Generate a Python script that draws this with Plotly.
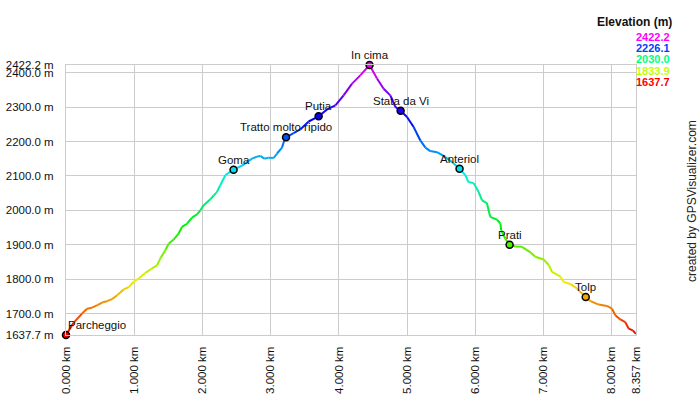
import colorsys
import plotly.graph_objects as go

# ---- data ----
dist_km = [0.000, 0.110, 0.235, 0.310, 0.380, 0.455, 0.530, 0.600, 0.675, 0.750,
           0.845, 0.920, 0.990, 1.065, 1.163, 1.260, 1.335, 1.383, 1.456, 1.505,
           1.578, 1.650, 1.700, 1.774, 1.848, 1.920, 1.970, 2.020, 2.116, 2.165,
           2.210, 2.260, 2.336, 2.457, 2.580, 2.727, 2.800, 2.850, 2.907, 2.970,
           3.044, 3.094, 3.167, 3.200, 3.226, 3.337, 3.435, 3.557, 3.704, 3.827,
           3.950, 4.070, 4.194, 4.315, 4.450, 4.560, 4.657, 4.755, 4.830, 4.906,
           5.000, 5.097, 5.195, 5.270, 5.340, 5.440, 5.560, 5.660, 5.770, 5.855,
           5.900, 5.977, 6.050, 6.100, 6.170, 6.220, 6.320, 6.370, 6.380, 6.440,
           6.504, 6.588, 6.686, 6.810, 6.880, 7.003, 7.077, 7.126, 7.250, 7.296,
           7.394, 7.490, 7.540, 7.620, 7.690, 7.810, 7.930, 8.006, 8.054, 8.127,
           8.200, 8.250, 8.310, 8.357]
elev_m = [1637.7, 1673, 1700, 1714, 1717, 1724, 1732, 1736, 1742, 1753,
          1770, 1777, 1792, 1802, 1818, 1831, 1840, 1860, 1884, 1903,
          1915, 1932, 1952, 1961, 1979, 1988, 2000, 2015, 2032, 2043,
          2052, 2072, 2102, 2118, 2130, 2150, 2156, 2158, 2150, 2153,
          2152, 2165, 2182, 2203, 2212, 2224, 2235, 2258, 2273, 2293,
          2305, 2334, 2368, 2392, 2422.2, 2383, 2353, 2334, 2300, 2289,
          2271, 2242, 2203, 2182, 2172, 2169, 2155, 2140, 2121, 2102,
          2082, 2079, 2053, 2029, 2021, 1981, 1973, 1961, 1942, 1918,
          1900, 1895, 1894, 1878, 1865, 1857, 1841, 1821, 1807, 1792,
          1786, 1773, 1763, 1748, 1736, 1726, 1722, 1714, 1695, 1683,
          1675, 1656, 1651, 1641]

wp_names = ["Parcheggio", "Goma", "Tratto molto ripido", "Putia", "In cima",
            "Stata da Vi", "Anteriol", "Prati", "Tolp"]
wp_km = [0.000, 2.457, 3.226, 3.704, 4.450, 4.906, 5.770, 6.504, 7.620]
wp_elev = [1637.7, 2118, 2212, 2273, 2422.2, 2289, 2121, 1900, 1748]

e_min, e_max = 1637.7, 2422.2
legend_vals = [2422.2, 2226.1, 2030.0, 1833.9, 1637.7]
y_ticks = [1637.7, 1700, 1800, 1900, 2000, 2100, 2200, 2300, 2400, 2422.2]
x_ticks = [0, 1, 2, 3, 4, 5, 6, 7, 8, 8.357]

FONT = "Liberation Sans, Arial"


def elev_color(e, light=0.47):
    frac = (e - e_min) / (e_max - e_min)
    frac = min(max(frac, 0), 1)
    r, g, b = colorsys.hls_to_rgb(frac * 300 / 360.0, light, 1.0)
    return "rgb(%d,%d,%d)" % (r * 255, g * 255, b * 255)


fig = go.Figure()

for i in range(len(dist_km) - 1):
    fig.add_trace(go.Scatter(
        x=[dist_km[i], dist_km[i + 1]], y=[elev_m[i], elev_m[i + 1]],
        mode="lines", line=dict(color=elev_color((elev_m[i] + elev_m[i + 1]) / 2), width=2),
        hoverinfo="skip", showlegend=False))

fig.add_trace(go.Scatter(
    x=wp_km, y=wp_elev, mode="markers", cliponaxis=False,
    marker=dict(size=7, color=[elev_color(e) for e in wp_elev],
                line=dict(color="black", width=1.5)),
    text=wp_names, hoverinfo="text", showlegend=False))

annotations = []
for n, xk, ye in zip(wp_names, wp_km, wp_elev):
    annotations.append(dict(
        x=xk, y=ye, xref="x", yref="y", text=n, showarrow=False,
        xanchor="left" if n == "Parcheggio" else "center", yanchor="middle",
        yshift=10, font=dict(family=FONT, size=11.5, color="#111")))

W, H = 700, 400
ml, mr, mt, mb = 66, 64, 65, 65
pw, ph = W - ml - mr, H - mt - mb


def px_to_paper(px, py):
    return (px - ml) / pw, 1 - (py - mt) / ph


ax, ay = px_to_paper(674, 22)
annotations.append(dict(x=ax, y=ay, xref="paper", yref="paper", text="<b>Elevation (m)</b>",
                        showarrow=False, xanchor="right", yanchor="middle",
                        font=dict(family=FONT, size=12, color="#111")))
for v, py in zip(legend_vals, [37, 48, 59, 70.5, 81.5]):
    ax, ay = px_to_paper(672, py)
    annotations.append(dict(x=ax, y=ay, xref="paper", yref="paper", text="<b>%.1f</b>" % v,
                            showarrow=False, xanchor="right", yanchor="middle",
                            font=dict(family=FONT, size=11, color=elev_color(v, 0.5))))
ax, ay = px_to_paper(692, 201)
annotations.append(dict(x=ax, y=ay, xref="paper", yref="paper", text="created by GPSVisualizer.com",
                        showarrow=False, textangle=-90, xanchor="center", yanchor="middle",
                        font=dict(family=FONT, size=12, color="#222")))

fig.update_layout(
    width=W, height=H, margin=dict(l=ml, r=mr, t=mt, b=mb, pad=0, autoexpand=False),
    plot_bgcolor="white", paper_bgcolor="white", showlegend=False,
    annotations=annotations,
    xaxis=dict(range=[0, 8.357], tickmode="array", tickvals=x_ticks,
               ticktext=["%.3f km" % v for v in x_ticks], tickangle=-90,
               showgrid=True, gridcolor="#cccccc", gridwidth=1, zeroline=False,
               showline=True, linecolor="#cccccc", linewidth=1, mirror=True,
               ticks="", ticklabelstandoff=6, automargin=False,
               tickfont=dict(family=FONT, size=11.5, color="#111")),
    yaxis=dict(range=[e_min, e_max], tickmode="array", tickvals=y_ticks,
               ticktext=["%.1f m" % v for v in y_ticks],
               showgrid=True, gridcolor="#cccccc", gridwidth=1, zeroline=False,
               showline=True, linecolor="#cccccc", linewidth=1, mirror=True,
               ticks="", ticklabelstandoff=9, automargin=False,
               tickfont=dict(family=FONT, size=11.5, color="#111")),
)

fig.write_html("out.html")
